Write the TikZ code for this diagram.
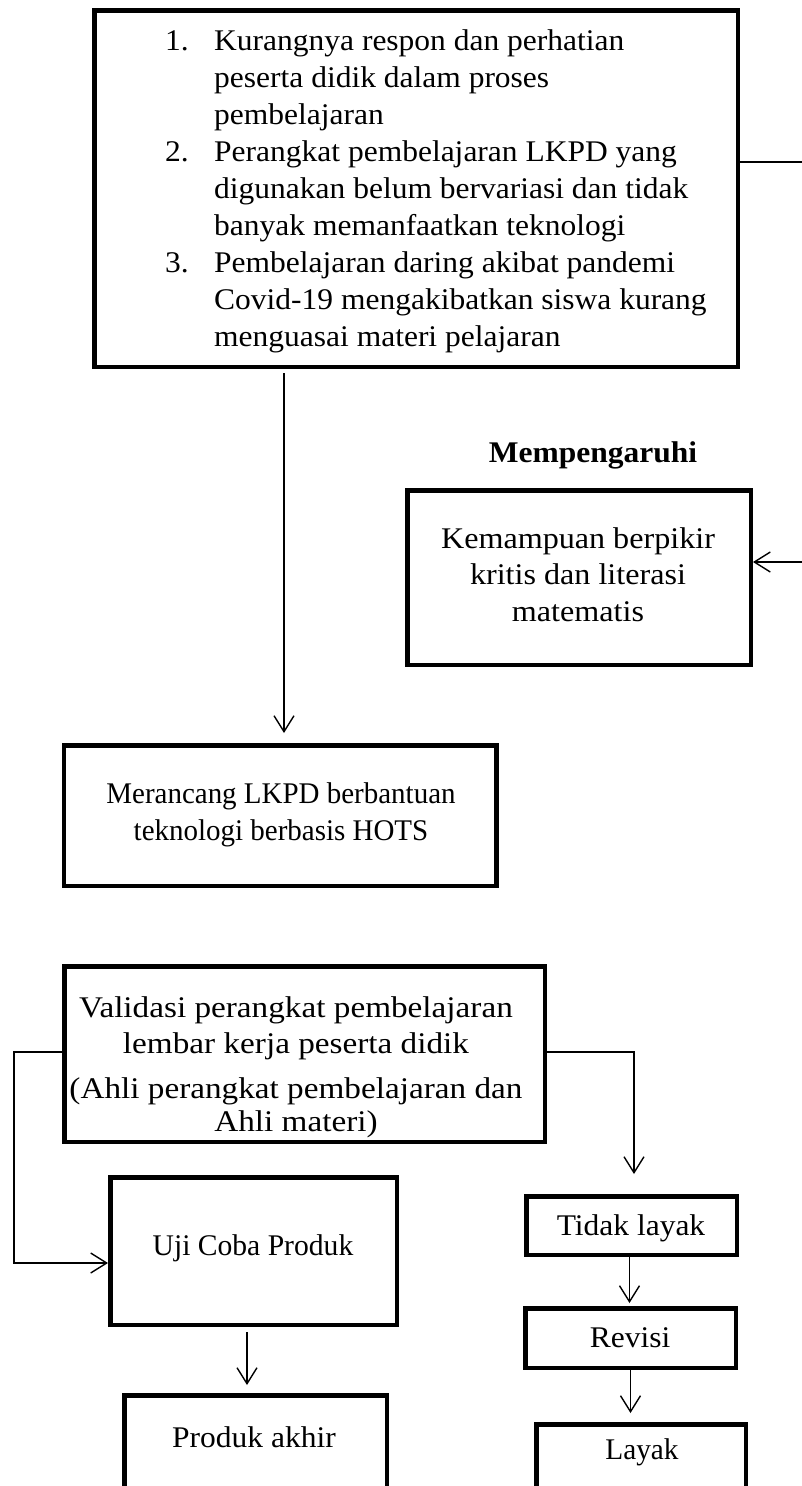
\documentclass[tikz,border=0pt]{standalone}
\usepackage{fontspec}
\setmainfont{Liberation Serif}[FakeStretch=1.05]
\usetikzlibrary{arrows.meta}
% centred multi-line text whose reference point is the first baseline
\newcommand\mlines[1]{\begin{tabular}[t]{@{}c@{}}#1\end{tabular}}
% horizontally narrowed or widened text
\newcommand\wide[2]{\scalebox{#1}[1]{#2}}
\begin{document}
\begin{tikzpicture}[x=1pt,y=-1pt,
  box/.style={draw, line width=4.5pt, inner sep=0pt},
  txt/.style={inner sep=0pt, font=\fontsize{30}{36.8}\selectfont},
  link/.style={line width=1.4pt, -{Straight Barb[length=16pt,width=20pt]}},
  plain/.style={line width=1.4pt}]
\useasboundingbox (0,0) rectangle (802,1486);
\clip (0,0) rectangle (802,1486);
\fill[white] (0,0) rectangle (802,1486);

% boxes
\node[box, minimum width=643.5pt, minimum height=356.5pt] (prob) at (416,188.5) {};
\node[box, minimum width=343.5pt, minimum height=174.5pt] (kem) at (579,577.5) {};
\node[box, minimum width=432.5pt, minimum height=140.5pt] (mer) at (280,815.5) {};
\node[box, minimum width=480.5pt, minimum height=175.5pt] (valid) at (304.5,1054) {};
\node[box, minimum width=286.5pt, minimum height=147.5pt] (uji) at (253.5,1251) {};
\node[box, minimum width=262.5pt, minimum height=132.5pt] (prod) at (255.5,1461.5) {};
\node[box, minimum width=210.5pt, minimum height=58.5pt] (tidak) at (631.5,1225.5) {};
\node[box, minimum width=210.5pt, minimum height=59.5pt] (revisi) at (630.5,1338) {};
\node[box, minimum width=209.5pt, minimum height=103.5pt] (layak) at (641,1476) {};

% texts
\node[txt, anchor=base west, font=\fontsize{30}{37}\selectfont] (probtxt) at (165,50) {%
  \begin{tabular}[t]{@{}p{49pt}@{}l@{}}
  1.& Kurangnya respon dan perhatian\\
    & peserta didik dalam proses\\
    & pembelajaran\\
  2.& Perangkat pembelajaran LKPD yang\\
    & digunakan belum bervariasi dan tidak\\
    & banyak memanfaatkan teknologi\\
  3.& Pembelajaran daring akibat pandemi\\
    & Covid-19 mengakibatkan siswa kurang\\
    & menguasai materi pelajaran
  \end{tabular}};
\node[txt, anchor=base, font=\fontsize{30}{36}\selectfont\bfseries] (infl) at (593,462) {Mempengaruhi};
\node[txt, anchor=base] (kemtxt) at (578,548) {\wide{1.02}{\mlines{Kemampuan berpikir\\kritis dan literasi\\matematis}}};
\node[txt, anchor=base, font=\fontsize{30}{37}\selectfont] (mertxt) at (281,803) {\wide{0.92}{\mlines{Merancang LKPD berbantuan\\teknologi berbasis HOTS}}};
\node[txt, anchor=base, font=\fontsize{30}{36.5}\selectfont] (validtxt) at (296,1017) {\wide{1.055}{\mlines{Validasi perangkat pembelajaran\\lembar kerja peserta didik\\[8pt](Ahli perangkat pembelajaran dan\\[-3pt]Ahli materi)}}};
\node[txt, anchor=base] (ujitxt) at (253,1255) {\wide{0.94}{Uji Coba Produk}};
\node[txt, anchor=base] (prodtxt) at (254,1447) {Produk akhir};
\node[txt, anchor=base] (tidaktxt) at (631,1235) {Tidak layak};
\node[txt, anchor=base] (revisitxt) at (630,1347) {Revisi};
\node[txt, anchor=base] (layaktxt) at (642,1459) {\wide{0.93}{Layak}};

% connectors
\coordinate (edgeA) at (802,162);
\coordinate (edgeB) at (802,562);
\coordinate (lbend) at (14,1263);
\draw[plain] (prob.east |- edgeA) -- (edgeA);
\draw[link] (edgeB) -- (kem.east |- edgeB);
\draw[link, shorten <=4pt, shorten >=10pt] (prob.south -| 284,0) -- (mer.north -| 284,0);
\draw[link] ([yshift=2pt]valid.west) -| (lbend) -- (lbend -| uji.west);
\draw[link, shorten >=20pt] ([yshift=2pt]valid.east) -| ([xshift=2.5pt]tidak.north);
\draw[link, shorten <=5pt, shorten >=8pt] ([xshift=-6.5pt]uji.south) -- ([xshift=-6.5pt]uji.south |- prod.north);
\draw[link, shorten >=3pt] ([xshift=-2pt]tidak.south) -- ([xshift=-2pt]tidak.south |- revisi.north);
\draw[link, shorten >=9pt] (revisi.south) -- (revisi.south |- layak.north);
\end{tikzpicture}
\end{document}
